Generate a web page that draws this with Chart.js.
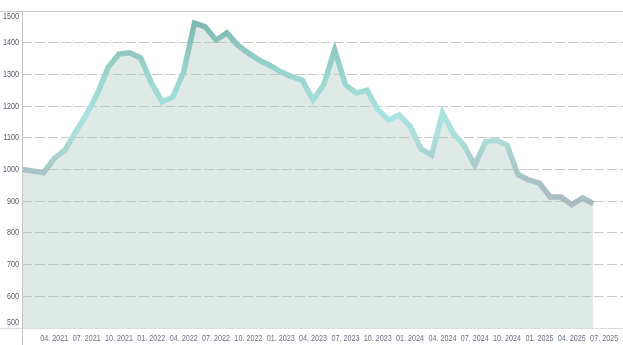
<!DOCTYPE html>
<html>
<head>
<meta charset="utf-8">
<script src="https://cdn.jsdelivr.net/npm/chart.js@4.4.1/dist/chart.umd.min.js"></script>
<style>
  html, body { margin: 0; padding: 0; background: #fff; }
  #wrap { width: 623px; height: 345px; }
</style>
</head>
<body>
<div id="wrap"><canvas id="priceChart" width="623" height="345"></canvas></div>
<script>
// monthly values, 01.2021 .. 06.2025 (month index 0 = 01.2021)
const values = [1000, 995, 990, 1035, 1062, 1120, 1175, 1240, 1323, 1364, 1368, 1352,
                1273, 1213, 1229, 1308, 1462, 1450, 1408, 1431, 1393, 1367, 1345, 1328,
                1308, 1293, 1282, 1219, 1268, 1377, 1268, 1241, 1250, 1190, 1156, 1172,
                1137, 1066, 1046, 1178, 1115, 1076, 1014, 1088, 1092, 1077, 984, 967,
                957, 913, 913, 889, 910, 892];

// quarterly ticks on the x axis
const tickMonths = [3, 6, 9, 12, 15, 18, 21, 24, 27, 30, 33, 36, 39, 42, 45, 48, 51, 54];
const tickLabels = ['04. 2021', '07. 2021', '10. 2021', '01. 2022', '04. 2022', '07. 2022',
                    '10. 2022', '01. 2023', '04. 2023', '07. 2023', '10. 2023', '01. 2024',
                    '04. 2024', '07. 2024', '10. 2024', '01. 2025', '04. 2025', '07. 2025'];

const yTicks = [500, 600, 700, 800, 900, 1000, 1100, 1200, 1300, 1400, 1500];

const yMin = 500;
const yMax = 1500;
const xMax = 55.75;

const points = values.map((v, i) => ({ x: i, y: v }));

const labelFont = "9px 'Liberation Sans', Arial, sans-serif";
const squeeze = 0.8;  // labels in the original are a narrow face

// line colour changes with height of the curve
function lineGradient(context) {
    const chart = context.chart;
    const area = chart.chartArea;
    if (!area) return '#a3dcd7';
    const ys = chart.scales.y;
    const g = chart.ctx.createLinearGradient(0, ys.getPixelForValue(1500), 0, ys.getPixelForValue(850));
    g.addColorStop(0.0, '#7ab1a9');
    g.addColorStop(0.12, '#86c0b9');
    g.addColorStop(0.3, '#9ad4ce');
    g.addColorStop(0.5, '#a9e3df');
    g.addColorStop(0.62, '#addedb');
    g.addColorStop(0.77, '#a8c6c7');
    g.addColorStop(1.0, '#abb6ba');
    return g;
}

// outer frame + tick labels drawn by hand (narrow text, end labels kept inside)
const framePlugin = {
    id: 'frame',
    afterDraw(chart) {
        const ctx = chart.ctx;
        const a = chart.chartArea;
        const xs = chart.scales.x;
        const ys = chart.scales.y;
        ctx.save();
        ctx.lineWidth = 1;
        ctx.strokeStyle = '#c9c9c9';
        ctx.beginPath();
        ctx.moveTo(0, a.top + 0.5);
        ctx.lineTo(chart.width, a.top + 0.5);
        ctx.stroke();
        ctx.strokeStyle = '#dcdcdc';
        ctx.beginPath();
        ctx.moveTo(0, a.bottom + 0.5);
        ctx.lineTo(chart.width, a.bottom + 0.5);
        ctx.stroke();
        ctx.strokeStyle = '#c6c6c6';
        ctx.beginPath();
        ctx.moveTo(a.left + 0.5, a.top);
        ctx.lineTo(a.left + 0.5, chart.height);
        ctx.stroke();

        ctx.font = labelFont;
        ctx.textBaseline = 'middle';

        // y labels
        ctx.fillStyle = '#545b6a';
        ctx.textAlign = 'right';
        yTicks.forEach(v => {
            let y = ys.getPixelForValue(v);
            y = Math.max(a.top + 6, Math.min(a.bottom - 5, y));
            ctx.save();
            ctx.translate(a.left - 3, y);
            ctx.scale(squeeze, 1);
            ctx.fillText(String(v), 0, 0);
            ctx.restore();
        });

        // x labels
        ctx.fillStyle = '#6b7180';
        ctx.textAlign = 'center';
        tickMonths.forEach((m, i) => {
            const x = xs.getPixelForValue(m);
            ctx.save();
            ctx.translate(x, a.bottom + 11);
            ctx.scale(squeeze, 1);
            ctx.fillText(tickLabels[i], 0, 0);
            ctx.restore();
        });
        ctx.restore();
    }
};

const ctx = document.getElementById('priceChart').getContext('2d');
const chart = new Chart(ctx, {
    type: 'line',
    data: {
        datasets: [{
            data: points,
            borderColor: lineGradient,
            borderWidth: 5.5,
            backgroundColor: 'rgba(170, 197, 188, 0.38)',
            fill: 'start',
            pointRadius: 0,
            tension: 0
        }]
    },
    options: {
        responsive: false,
        animation: false,
        layout: { padding: { top: 11, right: 0, left: 0, bottom: 0 } },
        plugins: {
            legend: { display: false },
            tooltip: { enabled: false }
        },
        scales: {
            x: {
                type: 'linear',
                min: 0,
                max: xMax,
                afterBuildTicks(scale) {
                    scale.ticks = tickMonths.map(m => ({ value: m }));
                },
                afterFit(scale) {
                    scale.height = 17;
                    scale.paddingLeft = 0;
                    scale.paddingRight = 0;
                },
                grid: { display: false },
                border: { display: false },
                ticks: { display: false }
            },
            y: {
                min: yMin,
                max: yMax,
                afterBuildTicks(scale) {
                    scale.ticks = yTicks.map(v => ({ value: v }));
                },
                afterFit(scale) {
                    scale.width = 22;
                    scale.paddingTop = 0;
                    scale.paddingBottom = 0;
                },
                grid: {
                    drawTicks: false,
                    color: (c) => (c.tick && (c.tick.value === yMin || c.tick.value === yMax)) ? 'rgba(0,0,0,0)' : '#cacaca',
                    lineWidth: 1
                },
                border: { display: false, dash: [10, 3] },
                ticks: { display: false }
            }
        }
    },
    plugins: [framePlugin]
});
</script>
</body>
</html>
